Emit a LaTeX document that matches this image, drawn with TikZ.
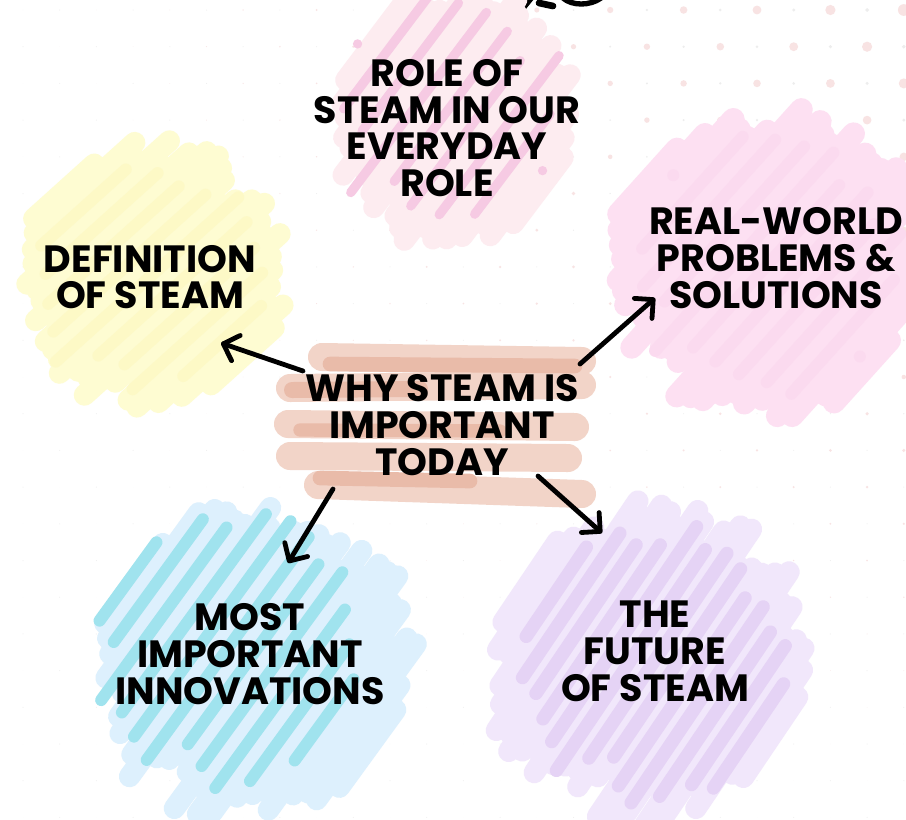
\documentclass[tikz,border=0pt]{standalone}
\usepackage{fontspec}
\setmainfont{Poppins}[BoldFont=* Bold]
\usetikzlibrary{arrows.meta}

\definecolor{dotpink}{HTML}{F8E3E3}
\definecolor{dotgrey}{HTML}{EDEDED}
\definecolor{roleA}{HTML}{FDECF0}
\definecolor{roleB}{HTML}{F6CAE3}
\definecolor{yelA}{HTML}{FEFCD2}
\definecolor{yelB}{HTML}{FDF9C6}
\definecolor{pinkA}{HTML}{FDE0F2}
\definecolor{pinkB}{HTML}{FBDAEF}
\definecolor{bluA}{HTML}{DDF0FD}
\definecolor{bluB}{HTML}{A0E3EE}
\definecolor{purA}{HTML}{F1E7FB}
\definecolor{purB}{HTML}{E5D3F5}
\definecolor{salA}{HTML}{F2D4C8}
\definecolor{salB}{HTML}{E9BBA9}

% one hand-drawn scribble patch: centre, radius, stroke angle,
% stroke spacing, stroke width (pt), colour, random seed
\newcommand\scribble[8]{%
  \pgfmathsetseed{#8}%
  \begin{scope}[shift={(#1,#2)},rotate=#4]
    \pgfmathtruncatemacro\nhalf{#3/#5}
    \foreach \k in {-\nhalf,...,\nhalf}{
      \pgfmathsetmacro\off{\k*#5}
      \pgfmathsetmacro\hlen{100*sqrt(max((#3/100)^2-(\off/100)^2,0))*(0.82+0.25*rnd)}
      \pgfmathsetmacro\shf{(rnd-0.5)*0.22*#3}
      \draw[line width=#6,line cap=round,draw=#7] (\shf-\hlen,\off) -- (\shf+\hlen,\off);
    }
  \end{scope}}

\tikzset{
  label/.style={align=center,inner sep=0pt,font=\bfseries\fontsize{28.5}{27.6}\selectfont},
  pointer/.style={line width=3.6pt,line cap=round,-{Straight Barb[length=10pt,width=20pt,round]}},
  band/.style={line width=21pt,line cap=round},
}

\begin{document}
\begin{tikzpicture}[x=0.75pt,y=-0.75pt]
\useasboundingbox (0,0) rectangle (906,819);
\fill[white] (0,0) rectangle (906,819);

% dotted background, fading towards the bottom left
\foreach \i in {0,...,24}{
  \foreach \j in {0,...,22}{
    \pgfmathsetmacro\px{23+36.7*\i}
    \pgfmathsetmacro\py{10+36.7*\j}
    \pgfmathsetmacro\rr{6*(\px/906)^1.6*(1-\py/819)^1.6}
    \pgfmathtruncatemacro\pp{mod(\i+\j,2)}
    \ifnum\pp=0
      \fill[dotpink] (\px,\py) circle[radius=\rr];
    \else
      \fill[dotgrey] (\px,\py) circle[radius={max(0.5,0.35*\rr)}];
    \fi
  }
}

% small black doodle at the top edge
\draw[line width=4.5pt,line cap=round] (531,-2) -- (518,14);
\draw[line width=5pt,line cap=round] (539,3) -- (553,6);
\draw[line width=4pt,line cap=round] (563,-2) .. controls (572,6) and (590,6) .. (601,-2);

% scribbled patches
\scribble{455}{118}{120}{53}{11}{16pt}{roleA}{11}
\scribble{448}{110}{112}{53}{28}{7pt}{roleB}{12}
\scribble{152}{275}{128}{42}{11}{16pt}{yelA}{21}
\scribble{152}{275}{115}{42}{24}{9pt}{yelB}{22}
\scribble{765}{265}{150}{48}{11}{17pt}{pinkA}{31}
\scribble{770}{262}{130}{48}{26}{9pt}{pinkB}{32}
\scribble{255}{660}{152}{54}{11}{16pt}{bluA}{41}
\scribble{228}{648}{132}{54}{24}{9pt}{bluB}{42}
\scribble{650}{660}{152}{56}{11}{16pt}{purA}{51}
\scribble{655}{660}{135}{56}{20}{10pt}{purB}{52}

% central band of horizontal strokes
\draw[band,salA] (322,357) -- (582,361);
\draw[band,salA] (290,388) -- (582,385);
\draw[band,salA] (288,424) -- (575,427);
\draw[band,salA] (290,456) -- (568,458);
\draw[band,salA] (318,485) -- (582,494);
\draw[band,salB,line width=11pt] (330,364) -- (575,366);
\draw[band,salB,line width=12pt] (292,390) -- (420,389);
\draw[band,salB,line width=10pt] (300,430) -- (500,431);
\draw[band,salB,line width=11pt] (320,478) -- (470,481);

% labels
\node[label] (why) at (442,425) {WHY STEAM IS\\IMPORTANT\\TODAY};
\node[label] (role) at (447,128) {ROLE OF\\STEAM IN OUR\\EVERYDAY\\ROLE};
\node[label] (def) at (150,277) {DEFINITION\\OF STEAM};
\node[label] (real) at (776,258) {REAL-WORLD\\PROBLEMS \&\\SOLUTIONS};
\node[label] (most) at (250,654) {MOST\\IMPORTANT\\INNOVATIONS};
\node[label] (future) at (655,651) {THE\\FUTURE\\OF STEAM};

% arrows from the centre
\coordinate (wl) at (303,371);
\coordinate (wr) at (580,364);
\coordinate (wbl) at (333,489);
\coordinate (wbr) at (538,476);
\coordinate (tdef) at (221,343);
\coordinate (treal) at (655,298);
\coordinate (tmost) at (288,563);
\coordinate (tfut) at (602,533);
\draw[pointer] (wl) -- (tdef);
\draw[pointer] (wr) -- (treal);
\draw[pointer] (wbl) -- (tmost);
\draw[pointer] (wbr) -- (tfut);
\end{tikzpicture}
\end{document}
